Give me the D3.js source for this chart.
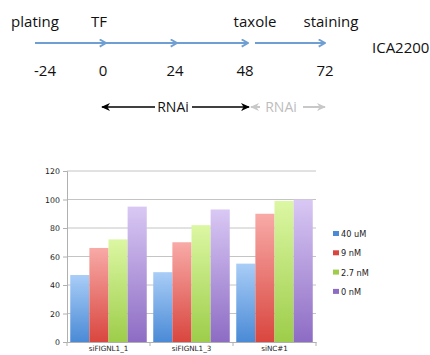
<!DOCTYPE html>
<html><head><meta charset="utf-8">
<script src="https://cdn.jsdelivr.net/npm/d3@7"></script>
<style>body{margin:0;background:#fff}svg{display:block}</style>
</head><body>
<script>
// ---- data ----
const timeHours = [-24, 0, 24, 48, 72];
const eventLabels = ["plating", "TF", "", "taxole", "staining"];
const cellLine = "ICA2200";
const rnaiLabel = "RNAi";
const categories = ["siFIGNL1_1", "siFIGNL1_3", "siNC#1"];
const seriesNames = ["40 uM", "9 nM", "2.7 nM", "0 nM"];
const s40uM = [47, 49, 55];
const s9nM = [66, 70, 90];
const s27nM = [72, 82, 99];
const s0nM = [95, 93, 100];
const yTicks = [0, 20, 40, 60, 80, 100, 120];
const seriesValues = [s40uM, s9nM, s27nM, s0nM];

(function () {
const W = 430, H = 355;
const svg = d3.select("body").append("svg").attr("width", W).attr("height", H);
const defs = svg.append("defs");

// ---- timeline ----
const tx = d3.scaleLinear().domain(timeHours).range([35, 106, 177, 248, 325]);
const topFont = "'Open Sans', Lato, sans-serif";
const arrowBlue = "#6f9fd2";

defs.append("marker").attr("id", "chev").attr("viewBox", "0 0 10 10")
  .attr("refX", 9).attr("refY", 5).attr("markerWidth", 9).attr("markerHeight", 9)
  .attr("markerUnits", "userSpaceOnUse").attr("orient", "auto")
  .append("path").attr("d", "M2,1 L9,5 L2,9").attr("fill", "none")
  .attr("stroke", arrowBlue).attr("stroke-width", 2);

const segs = [[-24, 0], [0, 24], [24, 48]];
svg.selectAll(".seg").data(segs).join("line")
  .attr("x1", d => tx(d[0])).attr("x2", d => tx(d[1]))
  .attr("y1", 43).attr("y2", 43)
  .attr("stroke", arrowBlue).attr("stroke-width", 2).attr("marker-end", "url(#chev)");
svg.append("line").attr("x1", tx(48) + 7).attr("x2", tx(72)).attr("y1", 43).attr("y2", 43)
  .attr("stroke", arrowBlue).attr("stroke-width", 2).attr("marker-end", "url(#chev)");

const evOffsets = [0, -7, 0, 7, 6];
svg.selectAll(".ev").data(eventLabels).join("text")
  .attr("x", (d, i) => tx(timeHours[i]) + evOffsets[i])
  .attr("y", 27).attr("text-anchor", "middle")
  .style("font-family", topFont).style("font-size", "15px").attr("fill", "#111")
  .text(d => d);

const numOffsets = [10, -3, -2, -3, 0];
svg.selectAll(".num").data(timeHours).join("text")
  .attr("x", (d, i) => tx(d) + numOffsets[i])
  .attr("y", 76).attr("text-anchor", "middle")
  .style("font-family", topFont).style("font-size", "15px").attr("fill", "#111")
  .text(d => d);

svg.append("text").attr("x", 372).attr("y", 53)
  .style("font-family", topFont).style("font-size", "15px").attr("fill", "#111").text(cellLine);

// RNAi arrows
function headMarker(id, color) {
  defs.append("marker").attr("id", id).attr("viewBox", "0 0 10 10")
    .attr("refX", 9).attr("refY", 5).attr("markerWidth", 9).attr("markerHeight", 9)
    .attr("markerUnits", "userSpaceOnUse").attr("orient", "auto-start-reverse")
    .append("path").attr("d", "M0,0.5 L10,5 L0,9.5 L3,5 Z").attr("fill", color);
}
headMarker("hk", "#000");
headMarker("hg", "#c8c8c8");
const ry = 107;
svg.append("line").attr("x1", 102).attr("x2", 155).attr("y1", ry).attr("y2", ry)
  .attr("stroke", "#000").attr("stroke-width", 1.6).attr("marker-start", "url(#hk)");
svg.append("text").attr("x", 173).attr("y", ry + 5).attr("text-anchor", "middle")
  .style("font-family", topFont).style("font-size", "14px").attr("fill", "#111").text(rnaiLabel);
svg.append("line").attr("x1", 192).attr("x2", 249).attr("y1", ry).attr("y2", ry)
  .attr("stroke", "#000").attr("stroke-width", 1.6).attr("marker-end", "url(#hk)");
svg.append("line").attr("x1", 251).attr("x2", 260).attr("y1", ry).attr("y2", ry)
  .attr("stroke", "#c8c8c8").attr("stroke-width", 2).attr("marker-start", "url(#hg)");
svg.append("text").attr("x", 281).attr("y", ry + 5).attr("text-anchor", "middle")
  .style("font-family", topFont).style("font-size", "14px").attr("fill", "#bdbdbd").text(rnaiLabel);
svg.append("line").attr("x1", 303).attr("x2", 325).attr("y1", ry).attr("y2", ry)
  .attr("stroke", "#c8c8c8").attr("stroke-width", 2).attr("marker-end", "url(#hg)");

// ---- bar chart ----
const pLeft = 67, pRight = 316, pTop = 171, pBottom = 342;
const y = d3.scaleLinear().domain([0, 120]).range([pBottom, pTop]);
const x0 = d3.scaleBand().domain(categories).range([pLeft, pRight]).paddingInner(0).paddingOuter(0);
const x1 = d3.scaleBand().domain(seriesNames).range([0, x0.bandwidth()]).paddingInner(0).paddingOuter(0.17);

const colors = [
  ["#a9cdf7", "#4a8ad6"],
  ["#f8aaa7", "#d9463f"],
  ["#dcf7a3", "#9dcd4a"],
  ["#d9c8f4", "#8d6cc4"]
];
colors.forEach((c, i) => {
  const g = defs.append("linearGradient").attr("id", "g" + i).attr("x1", 0).attr("x2", 0).attr("y1", 0).attr("y2", 1);
  g.append("stop").attr("offset", "0%").attr("stop-color", c[0]);
  g.append("stop").attr("offset", "100%").attr("stop-color", c[1]);
});

const chartFont = "'DejaVu Sans', sans-serif";
svg.append("g").selectAll("line").data(yTicks.filter(d => d > 0)).join("line")
  .attr("x1", pLeft).attr("x2", pRight).attr("y1", d => y(d)).attr("y2", d => y(d))
  .attr("stroke", "#c4c4c4").attr("stroke-width", 1);

const yAxis = svg.append("g").attr("transform", `translate(${pLeft},0)`)
  .call(d3.axisLeft(y).tickValues(yTicks).tickSize(4).tickPadding(3));
yAxis.select(".domain").attr("stroke", "#b0b0b0");
yAxis.selectAll(".tick line").attr("stroke", "#b0b0b0");
yAxis.selectAll("text").style("font-family", chartFont).style("font-size", "7.8px").attr("fill", "#222");

const groups = svg.append("g").selectAll("g").data(categories).join("g")
  .attr("transform", d => `translate(${x0(d)},0)`);
groups.selectAll("rect").data((c, ci) => seriesValues.map((s, si) => ({ si, v: s[ci] })))
  .join("rect")
  .attr("x", d => x1(seriesNames[d.si])).attr("width", x1.bandwidth())
  .attr("y", d => y(d.v)).attr("height", d => pBottom - y(d.v))
  .attr("fill", d => `url(#g${d.si})`);

const xAxis = svg.append("g").attr("transform", `translate(0,${pBottom})`)
  .call(d3.axisBottom(x0).tickSize(0).tickPadding(4));
xAxis.select(".domain").attr("stroke", "#b0b0b0");
xAxis.selectAll("text").style("font-family", chartFont).style("font-size", "7.2px").attr("fill", "#222");
svg.append("g").selectAll("line").data(d3.range(categories.length + 1)).join("line")
  .attr("x1", i => pLeft + i * x0.bandwidth()).attr("x2", i => pLeft + i * x0.bandwidth())
  .attr("y1", pBottom).attr("y2", pBottom + 4).attr("stroke", "#b0b0b0");

const leg = svg.append("g").attr("transform", "translate(333,234)");
const li = leg.selectAll("g").data(seriesNames).join("g").attr("transform", (d, i) => `translate(0,${i * 19.3})`);
li.append("rect").attr("x", 0).attr("y", -3).attr("width", 6).attr("height", 5).attr("fill", (d, i) => colors[i][1]);
li.append("text").attr("x", 8).attr("y", 3).style("font-family", chartFont).style("font-size", "8.2px").attr("fill", "#222").text(d => d);
})();
</script>
</body></html>
